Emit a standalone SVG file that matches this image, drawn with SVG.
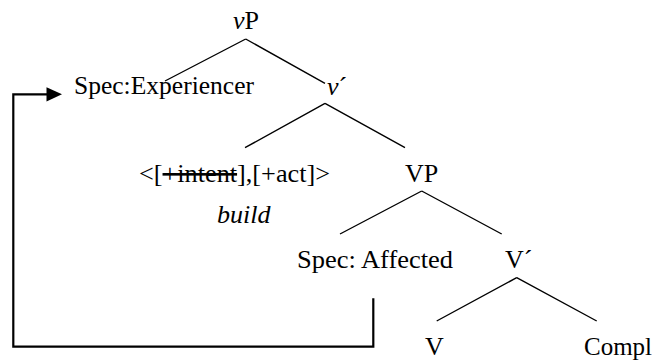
<svg xmlns="http://www.w3.org/2000/svg" width="656" height="360" viewBox="0 0 656 360">
<style>
text{font-family:"Liberation Serif","Times New Roman",serif;font-size:26px;fill:#000}
.i{font-style:italic}
.t{stroke:#000;stroke-width:1.4;fill:none}
.c{stroke:#000;stroke-width:2.2;fill:none}
</style>
<rect width="656" height="360" fill="#fff"/>
<g id="connectors">
<path class="t" d="M245.7,39 L165,81 M245.7,39 L325,83.3"/>
<path class="t" d="M325,103.3 L245,147.7 M325,103.3 L405,147.7"/>
<path class="t" d="M421.7,191 L340,234 M421.7,191 L501.7,234"/>
<path class="t" d="M516.7,277.7 L436.7,321 M516.7,277.7 L596.7,321"/>
<path class="c" d="M373.3,298.3 V346.7 H13.3 V94.3 H48"/>
<polygon points="46.5,87.3 62,94.3 46.5,101.5" fill="#000"/>
</g>
<g id="node-vP"><text x="233" y="29"><tspan class="i">v</tspan>P</text></g>
<g id="node-spec-exp"><text x="74" y="94" textLength="180" lengthAdjust="spacingAndGlyphs">Spec:Experiencer</text></g>
<g id="node-vbar"><text x="327" y="95"><tspan class="i">v</tspan>´</text></g>
<g id="node-features"><text x="139" y="182" textLength="191" lengthAdjust="spacingAndGlyphs">&lt;[<tspan text-decoration="line-through">+intent</tspan>],[+act]&gt;</text></g>
<g id="node-build"><text class="i" x="217" y="223">build</text></g>
<g id="node-VP"><text x="405" y="182">VP</text></g>
<g id="node-spec-aff"><text x="297" y="268" textLength="156" lengthAdjust="spacingAndGlyphs">Spec: Affected</text></g>
<g id="node-Vbar"><text x="505" y="268">V´</text></g>
<g id="node-V"><text x="425" y="355">V</text></g>
<g id="node-compl"><text x="584" y="355" textLength="68" lengthAdjust="spacingAndGlyphs">Compl</text></g>
</svg>
